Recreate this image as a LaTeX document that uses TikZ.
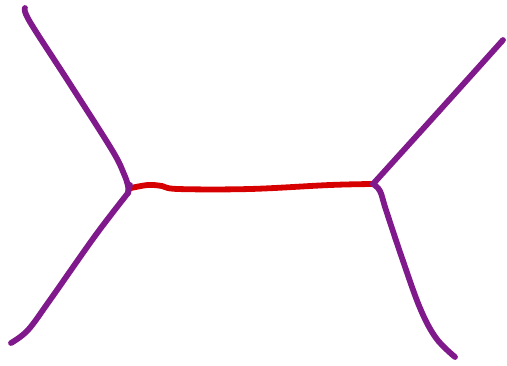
\documentclass[tikz,border=0pt]{standalone}
\definecolor{legpurple}{RGB}{128,26,140}
\definecolor{proprred}{RGB}{214,0,0}
\tikzset{
  leg/.style={draw=legpurple, line width=5.8pt, line cap=round, line join=round},
  prop/.style={draw=proprred, line width=5.8pt, line cap=round, line join=round}
}
\begin{document}
\begin{tikzpicture}[x=1pt, y=-1pt]
  \useasboundingbox (0,0) rectangle (507,365);
  % vertices
  \coordinate (vl) at (128,193);
  \coordinate (vr) at (373,184);
  % outer ends
  \coordinate (tl) at (25,8);
  \coordinate (bl) at (11,343);
  \coordinate (tr) at (503,40);
  \coordinate (br) at (455,357);

  % propagator
  \draw[prop] plot[smooth, tension=0.6] coordinates {(131,188) (148,185) (162,186) (178,189) (250,189) (330,185) (vr)};
  % left legs
  \draw[leg] plot[smooth, tension=0.6] coordinates {(tl) (30,22) (70,84) (112,150) (124,174) (128,186) (vl)};
  \draw[leg] plot[smooth, tension=0.6] coordinates {(vl) (95,236) (50,300) (28,330) (bl)};
  \draw[leg] (vl) -- (130,185);
  % right legs
  \draw[leg] plot[smooth, tension=0.6] coordinates {(vr) (440,110) (tr)};
  \draw[leg] plot[smooth, tension=0.6] coordinates {(vr) (380,191) (386,210) (402,258) (420,308) (436,338) (br)};
\end{tikzpicture}
\end{document}
